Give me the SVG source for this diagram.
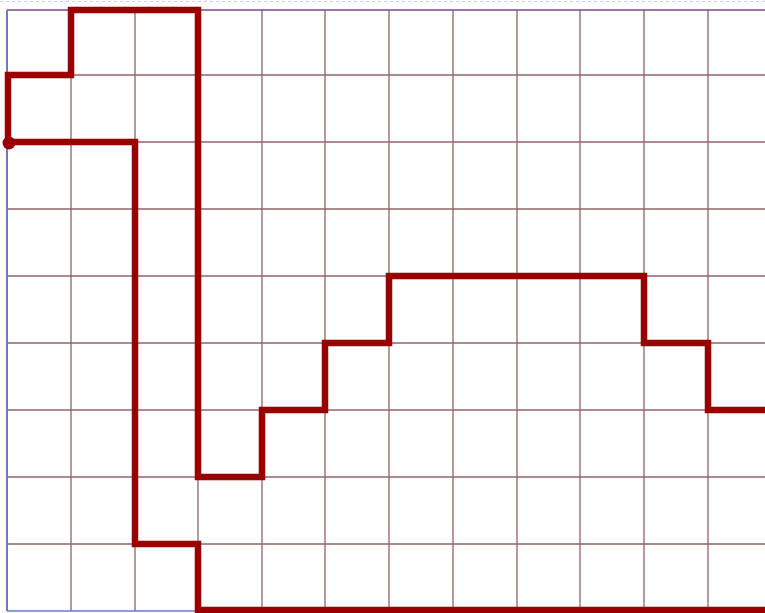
<svg xmlns="http://www.w3.org/2000/svg" width="765" height="613" viewBox="0 0 765 613">
<style>
.g{stroke:#8f6464;stroke-width:1.3;fill:none}
.p{stroke:#990000;stroke-width:6.5;fill:none;stroke-linejoin:miter}
</style>
<rect width="765" height="613" fill="#ffffff"/>
<line x1="0" y1="1.5" x2="765" y2="1.5" stroke="#c8d4ec" stroke-width="1" stroke-dasharray="3,3"/>
<g id="grid" class="g">
<line x1="71" y1="10" x2="71" y2="611"/>
<line x1="135" y1="10" x2="135" y2="611"/>
<line x1="198" y1="10" x2="198" y2="611"/>
<line x1="262" y1="10" x2="262" y2="611"/>
<line x1="325" y1="10" x2="325" y2="611"/>
<line x1="389" y1="10" x2="389" y2="611"/>
<line x1="453" y1="10" x2="453" y2="611"/>
<line x1="517" y1="10" x2="517" y2="611"/>
<line x1="580" y1="10" x2="580" y2="611"/>
<line x1="644" y1="10" x2="644" y2="611"/>
<line x1="708" y1="10" x2="708" y2="611"/>
<line x1="7" y1="75" x2="765" y2="75"/>
<line x1="7" y1="142" x2="765" y2="142"/>
<line x1="7" y1="209" x2="765" y2="209"/>
<line x1="7" y1="276" x2="765" y2="276"/>
<line x1="7" y1="343" x2="765" y2="343"/>
<line x1="7" y1="410" x2="765" y2="410"/>
<line x1="7" y1="477" x2="765" y2="477"/>
<line x1="7" y1="544" x2="765" y2="544"/>
</g>
<line x1="7" y1="10" x2="765" y2="10" stroke="#7a4a8a" stroke-width="1.5"/>
<line x1="7" y1="611" x2="765" y2="611" stroke="#6a7ad0" stroke-width="1.5"/>
<line x1="7" y1="10" x2="7" y2="611" stroke="#6a7ad0" stroke-width="2"/>
<g id="connectors">
<path class="p" d="M765,410 H708 V343 H644 V276 H389 V343 H325 V410 H262 V477 H198 V10 H71 V75 H8 V142 H135 V544 H198 V610 H765"/>
<circle cx="9" cy="143" r="6.5" fill="#990000"/>
</g>
</svg>
